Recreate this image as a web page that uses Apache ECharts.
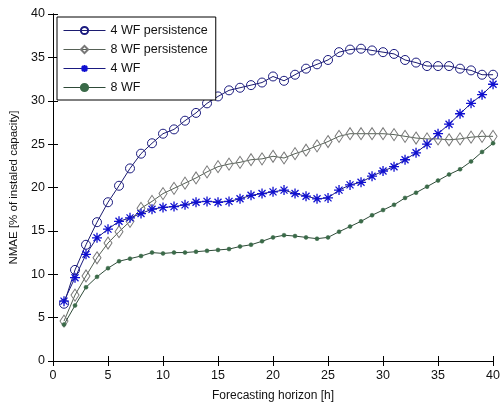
<!DOCTYPE html>
<html><head><meta charset="utf-8">
<script src="https://cdn.jsdelivr.net/npm/echarts@6/dist/echarts.min.js"></script>
<style>html,body{margin:0;padding:0;background:#fff}#c{width:503px;height:407px}</style>
</head><body><div id="c"></div>
<script>
var hours = [];
for (var i = 1; i <= 40; i++) hours.push(i);
var wf4Persistence = [6.6,10.5,13.4,16.0,18.3,20.2,22.2,23.9,25.1,26.2,26.7,27.7,28.6,29.7,30.5,31.2,31.5,31.8,32.1,32.8,32.3,33.0,33.7,34.2,34.7,35.6,35.9,36.0,35.8,35.6,35.4,34.7,34.4,34.0,34.0,34.0,33.7,33.5,33.0,33.0];
var wf8Persistence = [4.6,7.6,9.8,11.9,13.6,14.9,16.1,17.6,18.4,19.3,19.9,20.5,21.1,21.8,22.4,22.7,22.9,23.2,23.3,23.6,23.4,23.9,24.3,24.8,25.3,25.9,26.2,26.2,26.2,26.2,26.1,25.9,25.7,25.6,25.6,25.5,25.6,25.8,25.9,25.9];
var wf4 = [6.9,9.6,12.3,14.2,15.2,16.1,16.5,17.0,17.5,17.7,17.8,18.0,18.3,18.4,18.3,18.4,18.7,19.1,19.3,19.5,19.7,19.3,19.0,18.7,18.8,19.7,20.3,20.6,21.3,21.9,22.4,23.2,24.0,25.0,26.2,27.3,28.5,29.7,30.7,31.9];
var wf8 = [4.2,6.4,8.5,9.7,10.7,11.5,11.8,12.1,12.5,12.4,12.5,12.5,12.6,12.7,12.8,12.9,13.2,13.4,13.8,14.25,14.5,14.4,14.25,14.1,14.25,14.9,15.5,16.1,16.8,17.4,18.0,18.8,19.4,20.1,20.8,21.5,22.1,23.0,24.1,25.1];
var seriesNames = ['4 WF persistence','8 WF persistence','4 WF','8 WF'];
var xTicks = [0,5,10,15,20,25,30,35,40];
var yTicks = [0,5,10,15,20,25,30,35,40];

function pairs(arr){ return arr.map(function(v,i){ return [hours[i], v]; }); }
var FONT = 'Liberation Sans';
var starPath = 'path://M0,-10L0,10M-10,0L10,0M-7,-7L7,7M-7,7L7,-7';

var chart = echarts.init(document.getElementById('c'), null, {renderer:'canvas'});
var axisCommon = {
  type:'value', min:0, max:40, interval:5,
  axisLine:{show:true, lineStyle:{color:'#000', width:1}},
  axisTick:{show:true, inside:true, length:5, lineStyle:{color:'#000'}},
  splitLine:{show:false}
};
chart.setOption({
  animation:false,
  backgroundColor:'#fff',
  grid:{left:53, right:6, top:14, bottom:43},
  legend:{
    orient:'vertical', left:57, top:17,
    data:seriesNames,
    backgroundColor:'#fff', borderColor:'#000', borderWidth:1,
    padding:[7,8,6,6], itemGap:6, itemWidth:42, itemHeight:9,
    lineStyle:{width:1},
    textStyle:{fontFamily:FONT, fontSize:12.5, color:'#111'}
  },
  xAxis:[
    Object.assign({}, axisCommon, {position:'bottom',
      name:'Forecasting horizon [h]', nameLocation:'middle', nameGap:29,
      nameTextStyle:{fontFamily:FONT, fontSize:12, color:'#111'},
      axisLabel:{fontFamily:FONT, fontSize:12.5, color:'#111', margin:8}}),
    Object.assign({}, axisCommon, {position:'top', axisLabel:{show:false}})
  ],
  yAxis:[
    Object.assign({}, axisCommon, {position:'left',
      name:'NMAE [% of instaled capacity]', nameLocation:'middle', nameGap:25,
      nameTextStyle:{fontFamily:FONT, fontSize:11.5, color:'#111'},
      axisLabel:{fontFamily:FONT, fontSize:12.5, color:'#111', margin:8}}),
    Object.assign({}, axisCommon, {position:'right', axisLabel:{show:false}})
  ],
  series:[
    {name:seriesNames[0], type:'line', data:pairs(wf4Persistence), symbol:'circle', symbolSize:9,
      lineStyle:{color:'#1c1c70', width:1}, itemStyle:{color:'rgba(255,255,255,0)', borderColor:'#1c1c80', borderWidth:1}, z:2},
    {name:seriesNames[1], type:'line', data:pairs(wf8Persistence), symbol:'diamond', symbolSize:[8,12],
      lineStyle:{color:'#556055', width:1}, itemStyle:{color:'rgba(255,255,255,0)', borderColor:'#777', borderWidth:1}, z:2},
    {name:seriesNames[2], type:'line', data:pairs(wf4), symbol:starPath, symbolSize:10,
      lineStyle:{color:'#1a1a80', width:1}, itemStyle:{color:'#1010d0', borderColor:'#1010d0', borderWidth:1.3}, z:3},
    {name:seriesNames[3], type:'line', data:pairs(wf8), symbol:'circle', symbolSize:4,
      lineStyle:{color:'#2e4a38', width:1}, itemStyle:{color:'#3a6a48', borderColor:'#3a6a48', borderWidth:0.5}, z:3}
  ]
});
</script></body></html>
